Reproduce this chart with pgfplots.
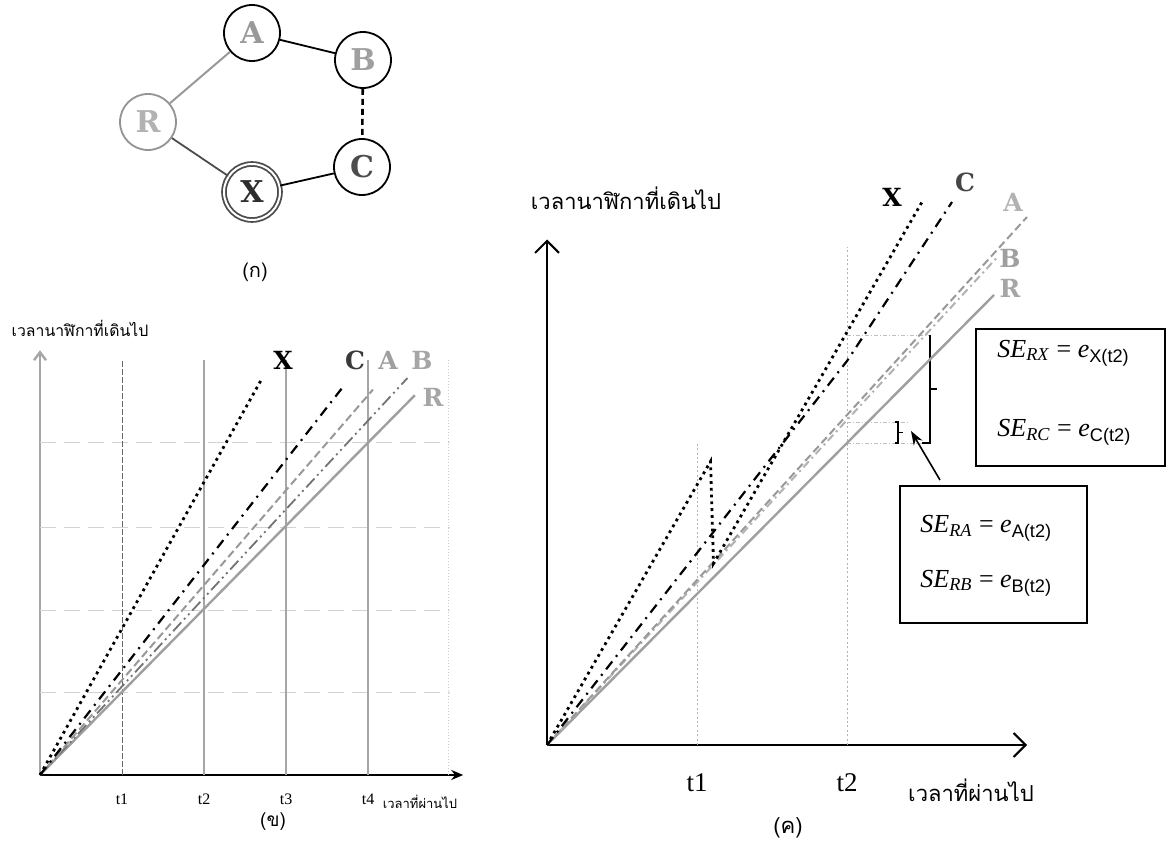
\documentclass[border=0pt]{standalone}
\usepackage{pgfplots}
\pgfplotsset{compat=1.18}
\usepackage{fontspec}
\setmainfont{Liberation Serif}
\newfontfamily\thai[Script=Thai]{Loma}
\newfontfamily\lbl{DejaVu Serif}
\newfontfamily\sans{Liberation Sans}
\usetikzlibrary{arrows.meta}

\pgfplotsset{
  sX/.style={black, line width=1.4pt, dotted},
  sC/.style={black, line width=1.1pt, dash pattern=on 5pt off 3pt on 1pt off 3pt},
  sA/.style={gray!80, line width=1pt, dash pattern=on 4pt off 2pt},
  sB/.style={gray!90!black, line width=0.9pt, dash pattern=on 6pt off 2pt on 1pt off 2pt on 1pt off 2pt},
  sR/.style={gray!75, line width=1.2pt},
}
\tikzset{
  circ/.style={circle, draw, line width=0.9pt, minimum size=28pt, inner sep=0pt, fill=white},
  nlab/.style={font=\lbl\bfseries\fontsize{15}{15}\selectfont},
  slab/.style={font=\lbl\bfseries\fontsize{12.5}{12.5}\selectfont},
}

\begin{document}
\begin{tikzpicture}
\begin{scope}[x=0.5pt,y=-0.5pt]
\path[use as bounding box] (0,0) rectangle (1174,850);
\coordinate (O1) at (40,775);
\coordinate (O2) at (547,745);
% diagram (ก)
\node[circ, draw=gray!85] (R) at (148,122) {};
\node[circ] (A) at (252,33) {};
\node[circ] (B) at (363,60) {};
\node[circ] (C) at (362,167) {};
\node[circ, double=white, double distance=1pt, draw=gray!60!black] (X) at (252,192) {};
\draw[gray!80, line width=1pt] (R) -- (A);
\draw[black, line width=0.9pt] (A) -- (B);
\draw[black, line width=1.3pt, dash pattern=on 3pt off 2pt] (B) -- (C);
\draw[black, line width=0.9pt] (C) -- (X);
\draw[gray!60!black, line width=0.9pt] (R) -- (X);
\node[nlab, text=gray!60] at (R) {R};
\node[nlab, text=gray!80] at (A) {A};
\node[nlab, text=gray!75] at (B) {B};
\node[nlab, text=gray!60!black] at (C) {C};
\node[nlab, text=gray!35!black] at (X) {X};
\node[font=\thai\fontsize{10}{10}\selectfont] at (255,272) {(ก)};
\end{scope}

% chart (ข)
\begin{axis}[
  at={(O1)}, anchor=south west,
  scale only axis, width=211.6pt, height=212.4pt,
  xmin=0, xmax=5.16, ymin=0, ymax=5.18,
  axis lines=left, clip=false,
  x axis line style={black, line width=1pt, -{Stealth[length=6pt,width=5pt]}},
  y axis line style={gray!70, line width=1.2pt, -{Straight Barb[length=4pt,width=6pt]}},
  xtick={1,2,3,4}, xticklabels={t1,t2,t3,t4}, ytick=\empty,
  major tick length=0pt,
  xticklabel style={font=\fontsize{8}{8}\selectfont, yshift=-6pt},
]
\addplot[gray!35, line width=0.6pt, dash pattern=on 8pt off 4pt] coordinates {(0,1.01) (5,1.01)};
\addplot[gray!35, line width=0.6pt, dash pattern=on 8pt off 4pt] coordinates {(0,2.01) (5,2.01)};
\addplot[gray!35, line width=0.6pt, dash pattern=on 8pt off 4pt] coordinates {(0,3.02) (5,3.02)};
\addplot[gray!35, line width=0.6pt, dash pattern=on 8pt off 4pt] coordinates {(0,4.05) (5,4.05)};
\addplot[gray!80!black, line width=0.4pt, dash pattern=on 3pt off 1pt] coordinates {(1,0) (1,5.06)};
\addplot[gray!70, line width=0.6pt] coordinates {(2,0) (2,5.06)};
\addplot[gray!70, line width=0.6pt] coordinates {(3,0) (3,5.06)};
\addplot[gray!70, line width=0.6pt] coordinates {(4,0) (4,5.06)};
\addplot[gray!40, line width=0.5pt, densely dotted] coordinates {(4.98,0) (4.98,5.06)};
\addplot[sR] coordinates {(0,0) (4.57,4.63)};
\addplot[sB] coordinates {(0,0) (4.48,4.84)};
\addplot[sA] coordinates {(0,0) (4.06,4.70)};
\addplot[sC] coordinates {(0,0) (3.70,4.74)};
\addplot[sX] coordinates {(0,0) (2.71,4.84)};
\end{axis}

% chart (ค)
\begin{axis}[
  at={(O2)}, anchor=south west,
  scale only axis, width=240pt, height=252.75pt,
  xmin=0, xmax=3.2, ymin=0, ymax=3.37,
  axis lines=left, clip=false,
  axis line style={black, line width=1pt, -{Straight Barb[length=6pt,width=12pt]}},
  xtick={1,2}, xticklabels={t1,t2}, ytick=\empty,
  major tick length=0pt,
  xticklabel style={font=\fontsize{13.5}{13.5}\selectfont, yshift=-11pt},
]
\addplot[gray!60, line width=0.5pt, dash pattern=on 1pt off 1.2pt] coordinates {(1,0) (1,2.013)};
\addplot[gray!60, line width=0.5pt, dash pattern=on 1pt off 1.2pt] coordinates {(2,0) (2,3.32)};
\addplot[gray!50, line width=0.5pt, dash pattern=on 2pt off 1pt on 0.5pt off 1pt] coordinates {(2,2.733) (2.553,2.733)};
\addplot[gray!50, line width=0.5pt, dash pattern=on 2pt off 1pt on 0.5pt off 1pt] coordinates {(2,2.153) (2.407,2.153)};
\addplot[gray!50, line width=0.5pt, dash pattern=on 2pt off 1pt on 0.5pt off 1pt] coordinates {(2,2.013) (2.553,2.013)};
\addplot[black, line width=0.8pt] coordinates {(2.553,2.733) (2.553,2.013) (2.50,2.013)};
\addplot[black, line width=0.8pt] coordinates {(2.553,2.373) (2.60,2.373)};
\addplot[black, line width=0.7pt] coordinates {(2.32,2.153) (2.34,2.153) (2.34,2.013) (2.32,2.013)};
\addplot[black, line width=0.7pt] coordinates {(2.34,2.083) (2.37,2.083)};
\addplot[sR] coordinates {(0,0) (2.98,3.0)};
\addplot[gray!60, line width=1pt, dash pattern=on 4pt off 2pt on 1pt off 2pt] coordinates {(0,0) (3.0,3.25)};
\addplot[sA] coordinates {(0,0) (3.2,3.52)};
\addplot[sC] coordinates {(0,0) (2.0,2.56) (2.7,3.62)};
\addplot[sX] coordinates {(0,0) (1.09,1.89) (1.11,1.21) (2.5,3.62)};
\end{axis}

\begin{scope}[x=0.5pt,y=-0.5pt]
% labels (ข)
\node[font=\thai\fontsize{7.9}{7.9}\selectfont] at (80,328) {เวลานาฬิกาที่เดินไป};
\node[font=\thai\fontsize{6.5}{6.5}\selectfont] at (420,802) {เวลาที่ผ่านไป};
\node[font=\thai\fontsize{9.5}{9.5}\selectfont] at (273,822) {(ข)};
\node[slab, text=black] at (283,360) {X};
\node[slab, text=gray!45!black] at (355,360) {C};
\node[slab, text=gray!75] at (388,360) {A};
\node[slab, text=gray!70] at (422,360) {B};
\node[slab, text=gray!70] at (433,397) {R};
% labels (ค)
\node[font=\thai\fontsize{11}{11}\selectfont] at (626,198) {เวลานาฬิกาที่เดินไป};
\node[font=\thai\fontsize{11}{11}\selectfont] at (971,790) {เวลาที่ผ่านไป};
\node[font=\thai\fontsize{11}{11}\selectfont] at (788,828) {(ค)};
\node[slab, text=black] at (892,197) {X};
\node[slab, text=gray!55!black] at (965,182) {C};
\node[slab, text=gray!60] at (1013,202) {A};
\node[slab, text=gray!75] at (1010,258) {B};
\node[slab, text=gray!70] at (1010,288) {R};
% annotation
\draw[-{Stealth[length=7pt,width=5pt]}, line width=0.8pt] (940,480) -- (911,431);
\draw[line width=0.7pt] (976,329) rectangle (1165,466);
\draw[line width=0.7pt] (900,486) rectangle (1087,623);
\begin{scope}[every node/.style={anchor=west, font=\fontsize{13}{13}\selectfont, inner sep=0pt}]
\node at (997,353) {\textit{SE}\textsubscript{\textit{RX}} = \textit{e}\textsubscript{\sans X(t2)}};
\node at (997,432) {\textit{SE}\textsubscript{\textit{RC}} = \textit{e}\textsubscript{\sans C(t2)}};
\node at (920,528) {\textit{SE}\textsubscript{\textit{RA}} = \textit{e}\textsubscript{\sans A(t2)}};
\node at (920,583) {\textit{SE}\textsubscript{\textit{RB}} = \textit{e}\textsubscript{\sans B(t2)}};
\end{scope}
\end{scope}
\end{tikzpicture}
\end{document}
